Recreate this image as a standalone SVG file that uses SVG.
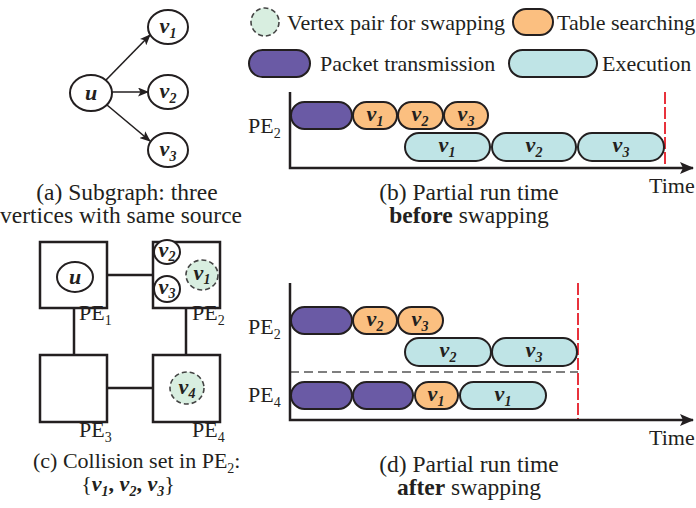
<svg xmlns="http://www.w3.org/2000/svg" width="696" height="508" viewBox="0 0 696 508">
<defs>
<style>
text{font-family:"Liberation Serif","Times New Roman",serif;fill:#231f20}
.t{font-size:22px}
.c{font-size:23.5px;text-anchor:middle}
.sub{font-size:14px}
.lab{font-size:22px;font-weight:bold;font-style:italic;text-anchor:middle}
.node{fill:#fff;stroke:#231f20;stroke-width:2}
.swap{fill:#d8eee0;stroke:#444;stroke-width:1.6;stroke-dasharray:5 3}
.box{fill:#fff;stroke:#231f20;stroke-width:2.5}
.link{stroke:#231f20;stroke-width:2.5;fill:none}
.pkt{fill:#6a5aa5;stroke:#231f20;stroke-width:2}
.tbl{fill:#fbbf80;stroke:#231f20;stroke-width:2}
.exe{fill:#bfe4e6;stroke:#231f20;stroke-width:2}
.axis{stroke:#231f20;stroke-width:2.5;fill:none}
.red{stroke:#e8323c;stroke-width:2;stroke-dasharray:12 3}
.arr{stroke:#231f20;stroke-width:1.6;fill:none}
</style>
<marker id="ah" markerWidth="11" markerHeight="9" refX="10" refY="4.5" orient="auto" markerUnits="userSpaceOnUse">
<path d="M0,0 L11,4.5 L0,9 L2.5,4.5 z" fill="#231f20"/>
</marker>
<marker id="axh" markerWidth="14" markerHeight="12" refX="13" refY="6" orient="auto" markerUnits="userSpaceOnUse">
<path d="M0,0 L14,6 L0,12 L3,6 z" fill="#231f20"/>
</marker>
</defs>

<!-- (a) subgraph -->
<g id="edges-a">
<line class="arr" x1="106" y1="80" x2="150" y2="35" marker-end="url(#ah)"/>
<line class="arr" x1="112" y1="92" x2="148" y2="92" marker-end="url(#ah)"/>
<line class="arr" x1="107" y1="105" x2="150" y2="141" marker-end="url(#ah)"/>
</g>
<g id="a-u"><ellipse class="node" cx="91" cy="93" rx="21" ry="18"/><text class="lab" x="91" y="100">u</text></g>
<g id="a-v1"><ellipse class="node" cx="168" cy="27" rx="20" ry="17"/><text class="lab" x="168" y="33">v<tspan class="sub" dy="5">1</tspan></text></g>
<g id="a-v2"><ellipse class="node" cx="168" cy="92" rx="20" ry="17"/><text class="lab" x="168" y="98">v<tspan class="sub" dy="5">2</tspan></text></g>
<g id="a-v3"><ellipse class="node" cx="168" cy="150" rx="20" ry="17"/><text class="lab" x="168" y="156">v<tspan class="sub" dy="5">3</tspan></text></g>
<text class="c" x="127" y="200">(a) Subgraph: three</text>
<text class="c" x="121" y="223">vertices with same source</text>

<!-- legend -->
<g id="legend">
<circle class="swap" cx="265" cy="22" r="14"/>
<text class="t" x="287" y="30">Vertex pair for swapping</text>
<rect class="tbl" x="513" y="9" width="40" height="26" rx="13"/>
<text class="t" x="557" y="30">Table searching</text>
<rect class="pkt" x="249" y="50" width="61" height="27" rx="13.5"/>
<text class="t" x="320" y="71">Packet transmission</text>
<rect class="exe" x="509" y="50" width="88" height="27" rx="13.5"/>
<text class="t" x="602" y="71">Execution</text>
</g>

<!-- (b) before swapping -->
<g id="chart-b">
<line class="red" x1="665" y1="92" x2="665" y2="168"/>
<polyline class="axis" points="290,92 290,168 693,168" marker-end="url(#axh)"/>
<text class="t" x="248" y="133">PE<tspan class="sub" dy="5">2</tspan></text>
<rect class="pkt" x="291" y="102" width="61" height="27" rx="13.5"/>
<rect class="tbl" x="353" y="102" width="44" height="27" rx="13.5"/>
<text class="lab" x="375" y="121">v<tspan class="sub" dy="5">1</tspan></text>
<rect class="tbl" x="398" y="102" width="45" height="27" rx="13.5"/>
<text class="lab" x="420" y="121">v<tspan class="sub" dy="5">2</tspan></text>
<rect class="tbl" x="444" y="102" width="44" height="27" rx="13.5"/>
<text class="lab" x="466" y="121">v<tspan class="sub" dy="5">3</tspan></text>
<rect class="exe" x="405" y="133" width="85" height="28" rx="14"/>
<text class="lab" x="447" y="152">v<tspan class="sub" dy="5">1</tspan></text>
<rect class="exe" x="492" y="133" width="84" height="28" rx="14"/>
<text class="lab" x="534" y="152">v<tspan class="sub" dy="5">2</tspan></text>
<rect class="exe" x="578" y="133" width="86" height="28" rx="14"/>
<text class="lab" x="621" y="152">v<tspan class="sub" dy="5">3</tspan></text>
<text class="t" x="649" y="193">Time</text>
</g>
<text class="c" x="469" y="200">(b) Partial run time</text>
<text class="c" x="469" y="223"><tspan font-weight="bold">before</tspan> swapping</text>

<!-- (c) placement -->
<g id="links-c">
<line class="link" x1="107" y1="275" x2="153" y2="275"/>
<line class="link" x1="74" y1="308" x2="74" y2="355"/>
<line class="link" x1="186" y1="308" x2="186" y2="355"/>
<line class="link" x1="107" y1="388" x2="153" y2="388"/>
</g>
<g id="pe1"><rect class="box" x="40" y="242" width="67" height="66"/>
<ellipse class="node" cx="75" cy="277" rx="18" ry="15"/><text class="lab" x="75" y="284">u</text>
<text class="t" x="79" y="320">PE<tspan class="sub" dy="5">1</tspan></text></g>
<g id="pe2"><rect class="box" x="153" y="242" width="67" height="66"/>
<ellipse class="node" cx="167" cy="252" rx="13" ry="12"/><text class="lab" x="167" y="257" font-size="20">v<tspan class="sub" font-size="13" dy="4">2</tspan></text>
<ellipse class="node" cx="167" cy="289" rx="13" ry="13"/><text class="lab" x="167" y="294" font-size="20">v<tspan class="sub" font-size="13" dy="4">3</tspan></text>
<ellipse class="swap" cx="202" cy="275" rx="16" ry="15"/><text class="lab" x="202" y="280" font-size="20">v<tspan class="sub" font-size="13" dy="4">1</tspan></text>
<text class="t" x="192" y="320">PE<tspan class="sub" dy="5">2</tspan></text></g>
<g id="pe3"><rect class="box" x="40" y="355" width="67" height="67"/>
<text class="t" x="79" y="437">PE<tspan class="sub" dy="5">3</tspan></text></g>
<g id="pe4"><rect class="box" x="153" y="355" width="67" height="67"/>
<ellipse class="swap" cx="187" cy="388" rx="17" ry="16"/><text class="lab" x="187" y="394" font-size="20">v<tspan class="sub" font-size="13" dy="4">4</tspan></text>
<text class="t" x="192" y="437">PE<tspan class="sub" dy="5">4</tspan></text></g>
<text class="t" x="33" y="468">(c) Collision set in PE<tspan class="sub" dy="5">2</tspan><tspan dy="-5">:</tspan></text>
<text class="t" x="128" y="491" text-anchor="middle">{<tspan font-weight="bold" font-style="italic">v</tspan><tspan class="sub" font-weight="bold" font-style="italic" dy="5">1</tspan><tspan dy="-5" font-weight="bold">, </tspan><tspan font-weight="bold" font-style="italic">v</tspan><tspan class="sub" font-weight="bold" font-style="italic" dy="5">2</tspan><tspan dy="-5" font-weight="bold">, </tspan><tspan font-weight="bold" font-style="italic">v</tspan><tspan class="sub" font-weight="bold" font-style="italic" dy="5">3</tspan><tspan dy="-5">}</tspan></text>

<!-- (d) after swapping -->
<g id="chart-d">
<line class="red" x1="578" y1="283" x2="578" y2="420"/>
<line x1="290" y1="372" x2="578" y2="372" stroke="#555" stroke-width="1.3" stroke-dasharray="9 5"/>
<polyline class="axis" points="290,283 290,420 693,420" marker-end="url(#axh)"/>
<text class="t" x="248" y="334">PE<tspan class="sub" dy="5">2</tspan></text>
<text class="t" x="248" y="402">PE<tspan class="sub" dy="5">4</tspan></text>
<rect class="pkt" x="291" y="307" width="61" height="27" rx="13.5"/>
<rect class="tbl" x="353" y="307" width="44" height="27" rx="13.5"/>
<text class="lab" x="375" y="326">v<tspan class="sub" dy="5">2</tspan></text>
<rect class="tbl" x="398" y="307" width="45" height="27" rx="13.5"/>
<text class="lab" x="420" y="326">v<tspan class="sub" dy="5">3</tspan></text>
<rect class="exe" x="405" y="338" width="86" height="28" rx="14"/>
<text class="lab" x="448" y="357">v<tspan class="sub" dy="5">2</tspan></text>
<rect class="exe" x="492" y="338" width="85" height="28" rx="14"/>
<text class="lab" x="534" y="357">v<tspan class="sub" dy="5">3</tspan></text>
<rect class="pkt" x="291" y="382" width="61" height="27" rx="13.5"/>
<rect class="pkt" x="353" y="382" width="60" height="27" rx="13.5"/>
<rect class="tbl" x="415" y="382" width="43" height="27" rx="13.5"/>
<text class="lab" x="436" y="401">v<tspan class="sub" dy="5">1</tspan></text>
<rect class="exe" x="460" y="382" width="86" height="27" rx="13.5"/>
<text class="lab" x="503" y="401">v<tspan class="sub" dy="5">1</tspan></text>
<text class="t" x="649" y="445">Time</text>
</g>
<text class="c" x="469" y="472">(d) Partial run time</text>
<text class="c" x="469" y="495"><tspan font-weight="bold">after</tspan> swapping</text>
</svg>
